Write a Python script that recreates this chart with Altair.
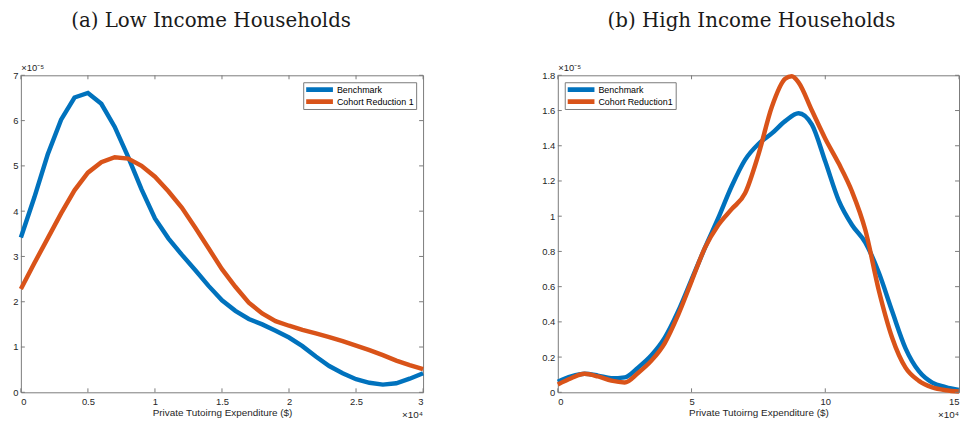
import altair as alt
import pandas as pd

# (a) low income: expenditure in units of 1e4 $, density in units of 1e-5
low_x = [0.0, 0.1, 0.2, 0.3, 0.4, 0.5, 0.6, 0.7, 0.8, 0.9, 1.0,
         1.1, 1.2, 1.3, 1.4, 1.5, 1.6, 1.7, 1.8, 1.9, 2.0,
         2.1, 2.2, 2.3, 2.4, 2.5, 2.6, 2.7, 2.8, 2.9, 3.0]
low_bench = [3.42, 4.30, 5.25, 6.02, 6.51, 6.61, 6.37, 5.86, 5.20, 4.48, 3.84,
             3.40, 3.04, 2.70, 2.35, 2.03, 1.80, 1.62, 1.50, 1.36, 1.21,
             1.02, 0.79, 0.58, 0.42, 0.29, 0.21, 0.17, 0.20, 0.30, 0.42]
low_cohort = [2.28, 2.85, 3.40, 3.95, 4.46, 4.85, 5.08, 5.19, 5.16, 5.00, 4.76,
              4.44, 4.08, 3.64, 3.18, 2.72, 2.33, 1.98, 1.74, 1.57, 1.47,
              1.38, 1.30, 1.22, 1.13, 1.03, 0.93, 0.82, 0.70, 0.60, 0.51]

# (b) high income
high_x_bench = [0, 0.5, 1, 1.5, 2, 2.5, 3, 3.5, 4, 4.5, 5, 5.5, 6, 6.5, 7, 7.5,
                8, 8.5, 9, 9.5, 10, 10.5, 11, 11.5, 12, 12.5, 13, 13.5, 14, 14.5, 15]
high_bench = [0.060, 0.090, 0.105, 0.095, 0.080, 0.085, 0.140, 0.210, 0.310, 0.460,
              0.640, 0.820, 0.990, 1.170, 1.320, 1.410, 1.470, 1.540, 1.585, 1.520,
              1.310, 1.090, 0.950, 0.850, 0.680, 0.460, 0.250, 0.120, 0.055, 0.030, 0.013]
high_x_cohort = [0, 0.5, 1, 1.5, 2, 2.5, 3, 3.5, 4, 4.5, 5, 5.5, 6, 6.5, 7, 7.5,
                 8, 8.5, 8.75, 9, 9.5, 10, 10.5, 11, 11.5, 12, 12.5, 13, 13.5, 14, 14.5, 15]
high_cohort = [0.045, 0.080, 0.105, 0.090, 0.066, 0.056, 0.110, 0.180, 0.280, 0.440,
               0.630, 0.820, 0.950, 1.040, 1.130, 1.350, 1.620, 1.780, 1.795, 1.760,
               1.600, 1.440, 1.300, 1.140, 0.920, 0.580, 0.310, 0.140, 0.065, 0.028,
               0.012, 0.005]

low_xticks = [0, 0.5, 1, 1.5, 2, 2.5, 3]
low_yticks = [0, 1, 2, 3, 4, 5, 6, 7]
high_xticks = [0, 5, 10, 15]
high_yticks = [0, 0.2, 0.4, 0.6, 0.8, 1, 1.2, 1.4, 1.6, 1.8]

COLORS = ["#0072BD", "#D95319"]
AX = "#7a7a7a"
TXT = "#262626"
SANS = "Liberation Sans"
# legend swatch: a few stacked strokes so it reads as a thick bar
SWATCH = "M-1,-0.4H5M-1,-0.13H5M-1,0.13H5M-1,0.4H5"


def long_df(xb, yb, xc, yc, names):
    a = pd.DataFrame({"x": xb, "y": yb, "series": names[0]})
    b = pd.DataFrame({"x": xc, "y": yc, "series": names[1]})
    return pd.concat([a, b], ignore_index=True)


def panel(df, names, xdom, ydom, xticks, yticks, interp, orient, title, dx, W, H):
    xscale = alt.Scale(domain=xdom, nice=False, zero=False)
    yscale = alt.Scale(domain=ydom, nice=False, zero=False)
    xs = alt.X("x:Q", scale=xscale)
    ys = alt.Y("y:Q", scale=yscale)

    lines = alt.Chart(df).mark_line(strokeWidth=4.5, interpolate=interp).encode(
        x=alt.X("x:Q", scale=xscale,
                axis=alt.Axis(values=xticks, tickCount=len(xticks) + 1, format="~g",
                              labelPadding=4, labelFlush=True,
                              title="Private Tutoirng Expenditure ($)", titlePadding=2)),
        y=alt.Y("y:Q", scale=yscale,
                axis=alt.Axis(values=yticks, tickCount=len(yticks) + 1, format="~g",
                              labelPadding=3, labelOverlap=False,
                              title="×10⁻⁵", titleAngle=0, titleX=0, titleY=-3,
                              titleAlign="left", titleBaseline="bottom",
                              titleFontSize=9.5)),
        color=alt.Color("series:N", scale=alt.Scale(domain=names, range=COLORS),
                        legend=alt.Legend(title=None, orient=orient, offset=7,
                                          symbolType=SWATCH, symbolSize=81,
                                          symbolStrokeWidth=1.3, labelOffset=21,
                                          labelFontSize=9, labelFont=SANS,
                                          labelColor="#000", labelLimit=200,
                                          strokeColor=AX, fillColor="white",
                                          padding=2, rowPadding=1)),
    )

    xt = pd.DataFrame({"x": xticks})
    yt = pd.DataFrame({"y": yticks})
    top = alt.Chart(xt).mark_rule(color=AX).encode(x=xs, y=alt.value(0), y2=alt.value(4))
    bot = alt.Chart(xt).mark_rule(color=AX).encode(x=xs, y=alt.value(H), y2=alt.value(H - 4))
    lft = alt.Chart(yt).mark_rule(color=AX).encode(y=ys, x=alt.value(0), x2=alt.value(4))
    rgt = alt.Chart(yt).mark_rule(color=AX).encode(y=ys, x=alt.value(W), x2=alt.value(W - 4))
    mult = alt.Chart(pd.DataFrame({"x": [xdom[1]]})).mark_text(
        align="right", baseline="middle", fontSize=10, font=SANS, color=TXT
    ).encode(x=xs, y=alt.value(H + 23), text=alt.value("×10⁴"))

    return alt.layer(lines, top, bot, lft, rgt, mult).properties(
        width=W, height=H,
        title=alt.TitleParams(title, font="DejaVu Serif", fontSize=20, fontWeight="normal",
                              color="#1a1a1a", anchor="middle", frame="group",
                              offset=32, dx=dx),
    )


low_names = ["Benchmark", "Cohort Reduction 1"]
high_names = ["Benchmark", "Cohort Reduction1"]

left = panel(long_df(low_x, low_bench, low_x, low_cohort, low_names), low_names,
             [0, 3], [0, 7], low_xticks, low_yticks, "linear", "top-right",
             "(a) Low Income Households", -11, 406, 320)
right = panel(long_df(high_x_bench, high_bench, high_x_cohort, high_cohort, high_names),
              high_names, [0, 15], [0, 1.8], high_xticks, high_yticks, "monotone", "top-left",
              "(b) High Income Households", -7, 405, 320)

chart = (
    alt.hconcat(left, right, spacing=136, bounds="flush")
    .resolve_scale(color="independent")
    .properties(padding={"left": 3, "top": 0, "right": -8, "bottom": -3})
    .configure_view(stroke=AX, strokeWidth=1)
    .configure_axis(domain=False, ticks=False, tickSize=0, grid=False, labelOverlap=False,
                    labelFont=SANS, labelFontSize=9.5, labelColor=TXT,
                    titleFont=SANS, titleFontSize=10, titleFontWeight="normal",
                    titleColor=TXT)
)

chart.save("out.html", embed_options={"renderer": "svg", "actions": False})
